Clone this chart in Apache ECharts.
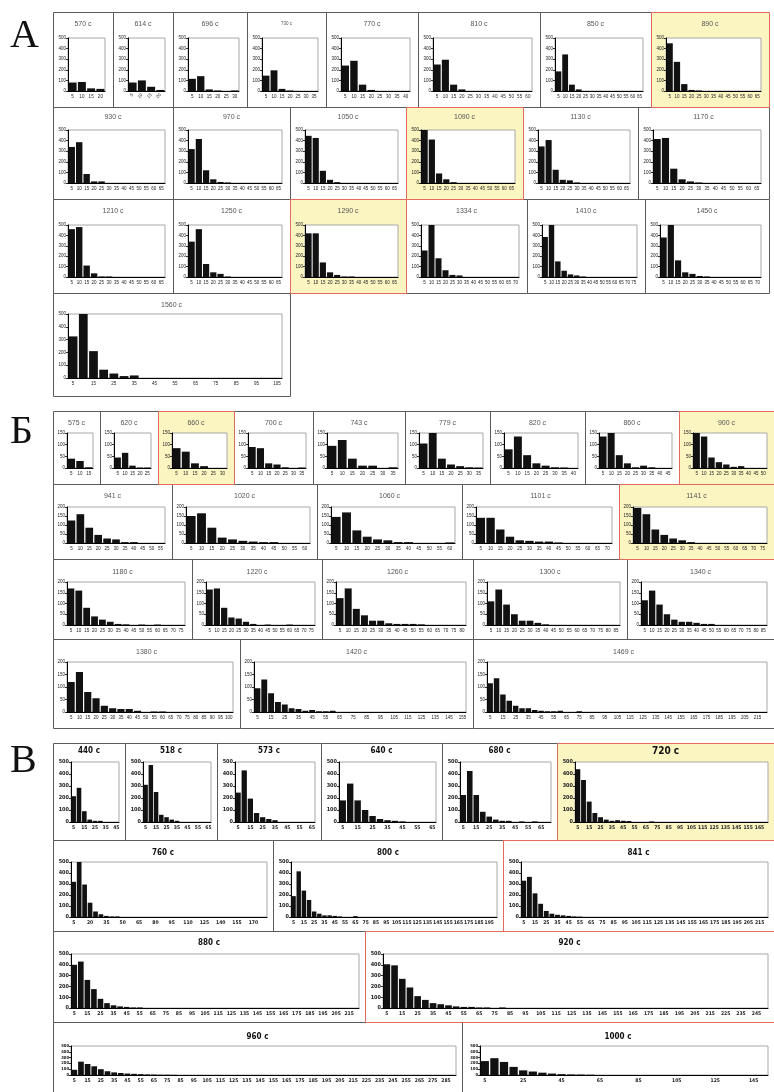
<!DOCTYPE html>
<html><head><meta charset="utf-8">
<script src="https://cdn.jsdelivr.net/npm/echarts@6/dist/echarts.min.js"></script>
<style>html,body{margin:0;padding:0;background:#fff}#c{width:774px;height:1092px}</style>
</head><body><div id="c"></div>
<script>
// ---------- DATA ----------
// Section А
const titlesA = ['570 c','614 c','696 c','730 c','770 c','810 c','850 c','890 c',
  '930 c','970 c','1050 c','1090 c','1130 c','1170 c',
  '1210 c','1250 c','1290 c','1334 c','1410 c','1450 c','1560 c'];
const lastBinA = [20,20,30,35,40,60,65,65, 65,65,65,65,65,65, 65,65,65,70,75,70, 105];
const labelEveryA = [1,1,1,1,1,1,1,1, 1,1,1,1,1,1, 1,1,1,1,1,1, 2];
const yMaxA = 500;
const valuesA = [
  [80,85,25,20],
  [80,100,40,10],
  [115,140,15,5,0,5],
  [145,195,20,5,0,0,0],
  [240,285,60,10],
  [250,295,60,15],
  [185,345,60,15],
  [450,275,65,10,5],
  [340,385,85,15,15],
  [320,415,120,35,10,5],
  [445,425,115,30,8],
  [500,410,90,35,8],
  [345,405,125,30,25,5],
  [415,425,135,35,15,5],
  [460,480,110,35,5,5],
  [340,460,125,45,30,5],
  [420,420,140,45,20,5,5],
  [255,500,180,65,20,15],
  [385,510,150,60,25,15,5],
  [380,510,160,45,30,10,5],
  [325,515,210,65,35,15,20]
];
// Section Б
const titlesB = ['575 c','620 c','660 c','700 c','743 c','779 c','820 c','860 c','900 c',
  '941 c','1020 c','1060 c','1101 c','1141 c',
  '1180 c','1220 c','1260 c','1300 c','1340 c',
  '1380 c','1420 c','1469 c'];
const lastBinB = [15,25,30,35,35,35,40,45,50, 55,60,60,70,75, 75,75,80,85,85, 100,155,220];
const labelEveryB = [1,1,1,1,1,1,1,1,1, 1,1,1,1,1, 1,1,1,1,1, 1,2,2];
const yMaxB = [150,150,150,150,150,150,150,150,150, 200,200,200,200,200, 200,200,200,200,200, 200,200,200];
const valuesB = [
  [40,30,3],
  [45,65,10,2,2],
  [85,70,20,8,0,0],
  [90,85,20,15,3,0,2],
  [95,120,40,10,10,0,3],
  [105,150,40,15,8,3,2],
  [80,135,55,20,10,3,2,0],
  [135,155,55,20,3,10,3,0,0],
  [150,135,45,25,15,5,8,0,0,0],
  [125,160,85,45,25,20,5,5],
  [150,165,85,30,20,12,8,5,5],
  [145,170,70,35,20,15,5,5,0,0,0,3],
  [140,140,75,35,15,12,8,8,3],
  [195,160,75,45,25,15,5],
  [170,160,80,40,25,15,5,3,0,2,0,2],
  [165,170,80,35,30,15,5,0,2,0,0,2],
  [125,170,75,45,20,20,8,5,5,5,3],
  [110,165,95,50,20,20,10,3],
  [115,160,95,50,25,15,15,10,5,5],
  [120,160,80,55,25,15,12,12,5,0,2,2],
  [95,130,75,40,30,15,12,5,8,3,3,5],
  [115,135,70,45,25,15,15,8,5,3,3,5,0,0,3]
];
// Section В
const titlesC = ['440 c','518 c','573 c','640 c','680 c','720 c',
  '760 c','800 c','841 c','880 c','920 c','960 c','1000 c'];
const lastBinC = [45,65,65,65,70,170, 180,200,220, 220,250, 290,150];
const labelEveryC = [2,2,2,2,2,2, 3,2,2, 2,2, 2,4];
const yMaxC = 500;
const valuesC = [
  [215,285,90,20,10,10],
  [310,475,250,60,40,20,10],
  [245,430,195,75,40,25,15],
  [180,320,180,100,50,25,15,10,5],
  [225,425,225,85,45,20,10,10,0,5,0,5],
  [440,350,170,75,40,20,10,15,10,8,0,0,0,5],
  [320,520,295,130,50,25,10,5,5],
  [190,415,240,155,50,30,15,15,10,5,0,0,8],
  [330,365,215,120,55,30,20,15,10,5,3],
  [400,430,260,175,85,45,25,15,10,5,5],
  [405,395,270,190,110,75,45,35,25,15,10,10,5,5,0,5],
  [90,230,190,150,100,65,45,35,25,20,15,10,8,5,5,3],
  [240,290,225,140,80,60,40,25,15,10,8,5]
];

// ---------- LAYOUT ----------
const rowsA = [
  {y0:12, y1:107, tY:24, pT:38, pB:91, xs:[53,113,173,247,326,418,540,651,769]},
  {y0:107,y1:199, tY:117,pT:130,pB:183,xs:[53,173,290,406,523,638,769]},
  {y0:199,y1:293, tY:211,pT:225,pB:277,xs:[53,173,290,406,527,645,769]},
  {y0:293,y1:396, tY:305,pT:314,pB:378,xs:[53,290]}
];
const rowsB = [
  {y0:411,y1:484,tY:423,pT:433,pB:468,xs:[53,100,158,234,313,405,490,585,679,774]},
  {y0:484,y1:559,tY:496,pT:507,pB:543,xs:[53,172,317,462,619,774]},
  {y0:559,y1:639,tY:572,pT:582,pB:625,xs:[53,192,322,473,627,774]},
  {y0:639,y1:728,tY:652,pT:662,pB:712,xs:[53,240,473,774]}
];
const rowsC = [
  {y0:743,y1:840,tY:751,pT:762,pB:822,xs:[53,125,217,321,442,557,774]},
  {y0:840,y1:931,tY:853,pT:862,pB:917,xs:[53,273,503,774]},
  {y0:931,y1:1022,tY:943,pT:954,pB:1008,xs:[53,365,774]},
  {y0:1022,y1:1100,tY:1037,pT:1046,pB:1075,xs:[53,462,774]}
];

function bins(last){ const a=[]; for(let b=5;b<=last;b+=5) a.push(String(b)); return a; }
function pad(v,n){ const a=v.slice(); while(a.length<n) a.push(0); return a; }

const sections = [
  {titles:titlesA, last:lastBinA, vals:valuesA, ymax:()=>yMaxA, yint:()=>100, every:labelEveryA, rows:rowsA,
   yellow:[7,11,16], red:[7,11,16], padL:15, padR:8, bold:false, fs:4.5, tfs:7, letter:'А', ly:36},
  {titles:titlesB, last:lastBinB, vals:valuesB, ymax:i=>yMaxB[i], yint:()=>50, every:labelEveryB, rows:rowsB,
   yellow:[2,8,13], red:[2,8,13], padL:14, padR:7, bold:false, fs:4.5, tfs:7, letter:'Б', ly:432},
  {titles:titlesC, last:lastBinC, vals:valuesC, ymax:()=>yMaxC, yint:()=>100, every:labelEveryC, rows:rowsC,
   yellow:[5], red:[5,8,10], padL:18, padR:6, bold:true, fs:5, tfs:8, letter:'В', ly:761}
];

const grid=[], xAxis=[], yAxis=[], series=[], back=[], front=[], texts=[];
let gi = 0;
sections.forEach(sec=>{
  texts.push({type:'text', z:100, style:{text:sec.letter, x:10, y:sec.ly, fill:'#111',
    font:'40px "Liberation Serif", "DejaVu Serif", serif', verticalAlign:'middle', align:'left'}});
  let pi = 0;
  sec.rows.forEach(r=>{
    const short = (r.pB - r.pT) < 40;
    for(let k=0;k<r.xs.length-1;k++){
      const x0=r.xs[k], x1=r.xs[k+1];
      const isY = sec.yellow.includes(pi), isR = sec.red.includes(pi);
      const rect = {type:'rect', z: isR? -1 : -2, silent:true,
        shape:{x:x0+0.5, y:r.y0+0.5, width:x1-x0, height:r.y1-r.y0},
        style:{fill: isY ? '#fbf5c2' : '#fff', stroke: isR ? '#e36a5c' : '#5a5a5a', lineWidth:1}};
      (isR?front:back).push(rect);
      const big = sec.bold && pi===5;
      let tfs = sec.tfs; if(sec.titles[pi]==='730 c') tfs=4.5; if(big) tfs=10;
      texts.push({type:'text', z:100, silent:true, style:{text:sec.titles[pi], x:(x0+x1)/2, y:r.tY,
        fill: sec.bold ? '#111' : '#555', align:'center', verticalAlign:'middle',
        font:(sec.bold?'bold ':'')+tfs+'px '+(sec.bold?'"DejaVu Sans Condensed", "Liberation Sans", sans-serif':'"Liberation Sans", Arial, sans-serif')}});
      const cats = bins(sec.last[pi]);
      const ff = sec.bold ? '"DejaVu Sans Condensed", "Liberation Sans", sans-serif' : '"Liberation Sans", Arial, sans-serif';
      grid.push({left:x0+sec.padL, top:r.pT, width:x1-x0-sec.padL-sec.padR, height:r.pB-r.pT,
        show:true, backgroundColor:'#fff', borderColor:'#a8a8a8', borderWidth:1});
      xAxis.push({gridIndex:gi, type:'category', data:cats,
        axisLine:{lineStyle:{color:'#000', width:1}},
        axisTick:{length:2, lineStyle:{color:'#000', width:0.8}},
        axisLabel:{interval:sec.every[pi]-1, fontSize:sec.fs, margin:3, color:'#222',
          fontWeight: sec.bold?'bold':'normal', fontFamily:ff,
          rotate: sec.titles[pi]==='614 c' ? 45 : 0},
        splitLine:{show:false}});
      yAxis.push({gridIndex:gi, type:'value', min:0, max:sec.ymax(pi), interval:sec.yint(pi),
        axisLine:{show:true, lineStyle:{color:'#000', width:1}},
        axisTick:{show:true, length:2, lineStyle:{color:'#000', width:0.8}},
        axisLabel:{fontSize: sec.bold ? (short && (r.pB-r.pT)<32 ? 4.2 : 5.5) : sec.fs, margin:2, color:'#222',
          fontWeight: sec.bold?'bold':'normal', fontFamily:ff, hideOverlap:false, showMinLabel:true, showMaxLabel:true},
        splitLine:{show:false}});
      series.push({type:'bar', xAxisIndex:gi, yAxisIndex:gi, data:pad(sec.vals[pi], cats.length),
        itemStyle:{color:'#111'}, barCategoryGap:'14%', silent:true});
      gi++; pi++;
    }
  });
});

const chart = echarts.init(document.getElementById('c'), null, {renderer:'canvas'});
chart.setOption({
  animation:false,
  grid, xAxis, yAxis, series,
  graphic:{elements: back.concat(front).concat(texts)}
});
</script></body></html>
